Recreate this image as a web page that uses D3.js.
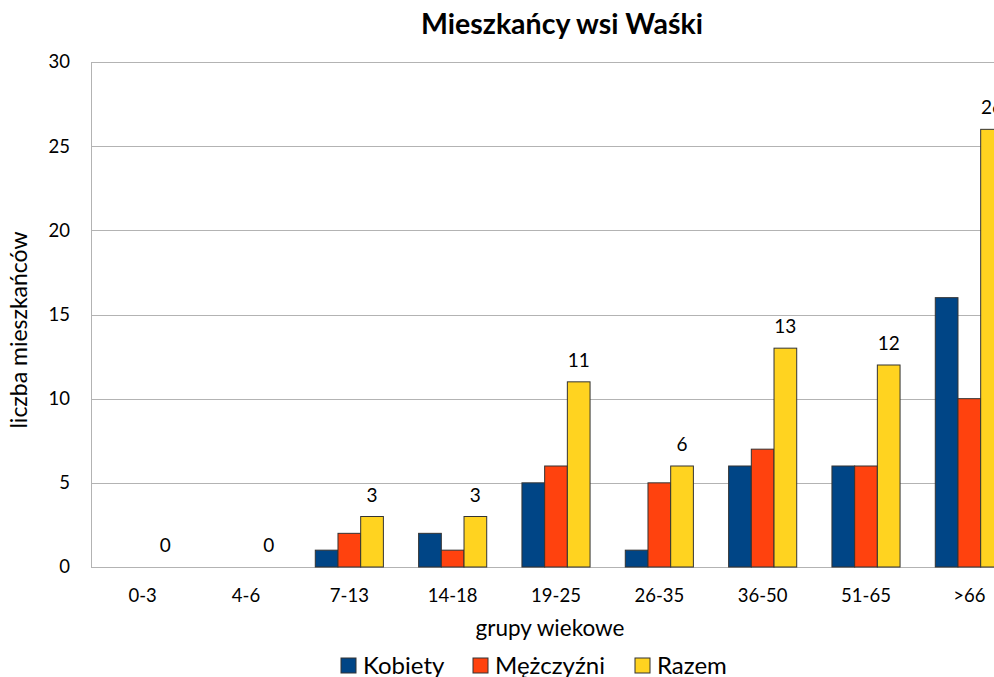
<!DOCTYPE html>
<html>
<head>
<meta charset="utf-8">
<script src="https://cdn.jsdelivr.net/npm/d3@7"></script>
<style>
  html, body { margin: 0; padding: 0; background: #fff; }
  svg { display: block; font-family: Lato, "Open Sans", sans-serif; }
</style>
</head>
<body>
<svg id="chart" width="994" height="677"></svg>
<script>
const categories = ["0-3", "4-6", "7-13", "14-18", "19-25", "26-35", "36-50", "51-65", ">66"];
const seriesNames = ["Kobiety", "Mężczyźni", "Razem"];
const kobiety   = [0, 0, 1, 2, 5, 1, 6, 6, 16];
const mezczyzni = [0, 0, 2, 1, 6, 5, 7, 6, 10];
const razem     = [0, 0, 3, 3, 11, 6, 13, 12, 26];
const yTicks = [0, 5, 10, 15, 20, 25, 30];
const colors = ["#004586", "#ff420e", "#ffd320"];
const title = "Mieszkańcy wsi Waśki";
const xTitle = "grupy wiekowe";
const yTitle = "liczba mieszkańców";

const seriesValues = [kobiety, mezczyzni, razem];
const rows = categories.map((c, i) => ({ cat: c, vals: seriesValues.map((s, j) => ({ name: seriesNames[j], v: s[i], j })) }));

const svg = d3.select("#chart");
const plot = { left: 91, top: 62, bottom: 567, right: 1021 };

const x0 = d3.scaleBand().domain(categories).range([plot.left, plot.right]).paddingInner(0).paddingOuter(0);
const x1 = d3.scaleBand().domain(seriesNames).range([0, x0.bandwidth()]).paddingInner(0).paddingOuter(0.776);
const y = d3.scaleLinear().domain([0, 30]).range([plot.bottom, plot.top]);

// gridlines
svg.append("g").selectAll("line").data(yTicks).join("line")
  .attr("x1", plot.left).attr("x2", plot.right)
  .attr("y1", d => Math.round(y(d)) + 0.5).attr("y2", d => Math.round(y(d)) + 0.5)
  .attr("stroke", "#b3b3b3").attr("stroke-width", 1);

// left axis line
svg.append("line")
  .attr("x1", plot.left + 0.5).attr("x2", plot.left + 0.5)
  .attr("y1", plot.top).attr("y2", plot.bottom + 0.5)
  .attr("stroke", "#b3b3b3");

// y tick labels
const yAxis = d3.axisLeft(y).tickValues(yTicks).tickSize(0).tickPadding(21);
const gy = svg.append("g").attr("transform", `translate(${plot.left},0)`).call(yAxis);
gy.select(".domain").remove();
gy.selectAll("text").attr("font-family", "Lato, sans-serif").attr("font-size", 18.5).attr("fill", "#000");

// x tick labels
const xAxis = d3.axisBottom(x0).tickSize(0).tickPadding(22);
const gx = svg.append("g").attr("transform", `translate(0,${plot.bottom})`).call(xAxis);
gx.select(".domain").remove();
gx.selectAll("text").attr("font-family", "Lato, sans-serif").attr("font-size", 18.5).attr("fill", "#000");

// bars
const groups = svg.append("g").selectAll("g").data(rows).join("g")
  .attr("transform", d => `translate(${x0(d.cat)},0)`);
groups.selectAll("rect").data(d => d.vals.filter(v => v.v > 0)).join("rect")
  .attr("x", d => x1(d.name))
  .attr("width", x1.bandwidth())
  .attr("y", d => y(d.v))
  .attr("height", d => y(0) - y(d.v))
  .attr("fill", d => colors[d.j])
  .attr("stroke", "#333")
  .attr("stroke-width", 1);

// data labels for Razem
svg.append("g").selectAll("text").data(rows).join("text")
  .attr("x", d => x0(d.cat) + x1("Razem") + x1.bandwidth() / 2)
  .attr("y", d => y(d.vals[2].v) - 15)
  .attr("text-anchor", "middle")
  .attr("font-size", 19)
  .attr("fill", "#000")
  .text(d => d.vals[2].v);

// title
svg.append("text")
  .attr("x", 562).attr("y", 34)
  .attr("text-anchor", "middle")
  .attr("font-size", 28.5).attr("font-weight", "bold")
  .text(title);

// x title
svg.append("text")
  .attr("x", 550).attr("y", 636)
  .attr("text-anchor", "middle")
  .attr("font-size", 22.5)
  .text(xTitle);

// y title
svg.append("text")
  .attr("transform", `translate(27,330) rotate(-90)`)
  .attr("text-anchor", "middle")
  .attr("font-size", 23)
  .text(yTitle);

// legend
const legendX = [341, 473, 635];
const lg = svg.append("g").selectAll("g").data(seriesNames).join("g")
  .attr("transform", (d, i) => `translate(${legendX[i]},658)`);
lg.append("rect").attr("width", 15).attr("height", 15)
  .attr("fill", (d, i) => colors[i]).attr("stroke", "#333");
lg.append("text").attr("x", 22).attr("y", 15.5)
  .attr("font-size", 24).text(d => d);
</script>
</body>
</html>
